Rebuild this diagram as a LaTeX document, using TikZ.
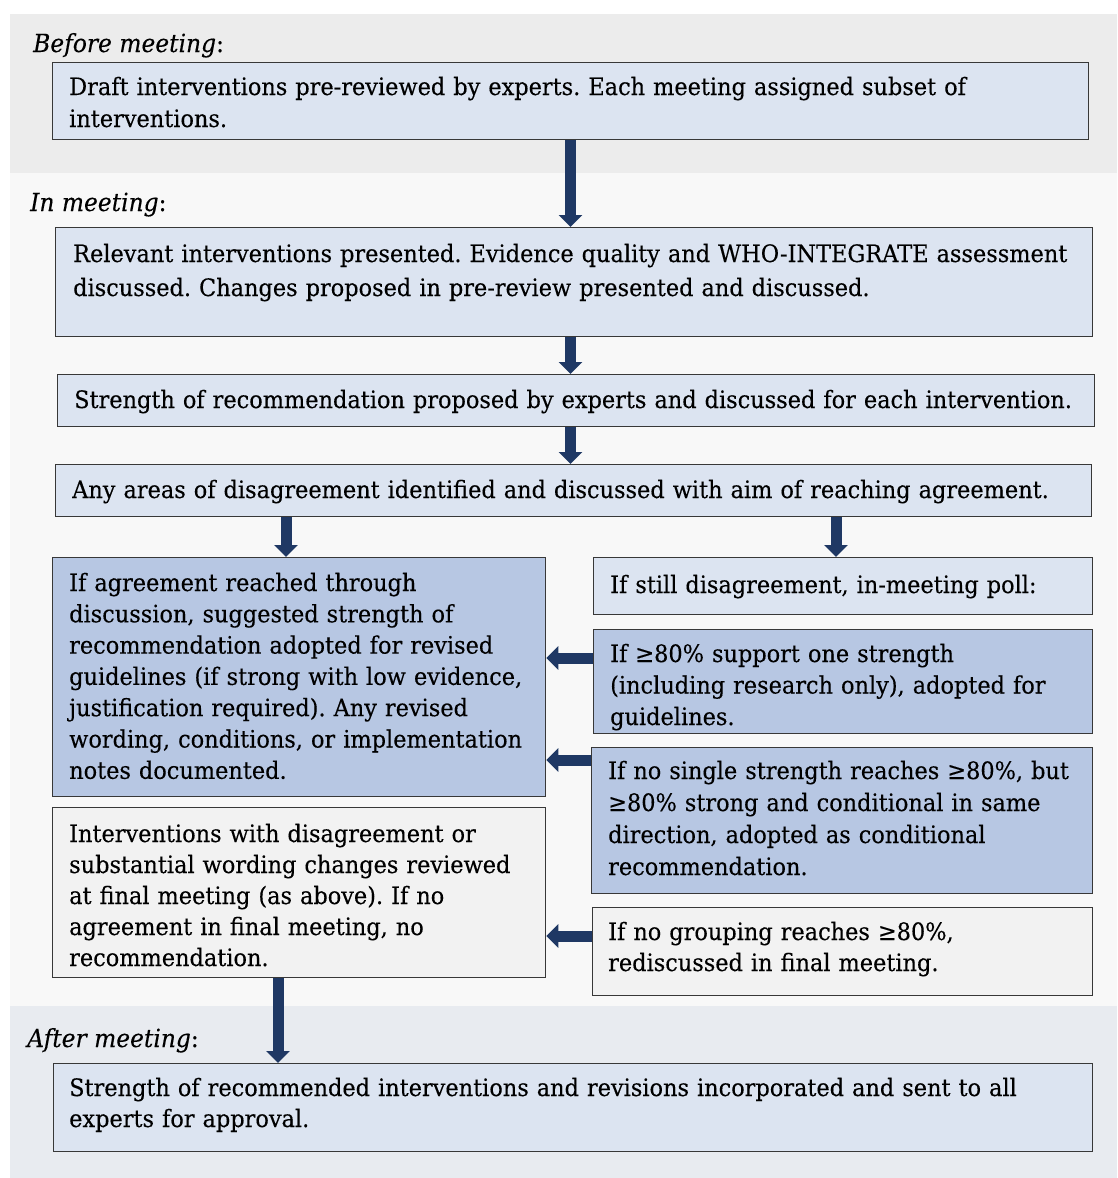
\documentclass[tikz,border=0pt]{standalone}
\usepackage{fontspec}
\setmainfont{DejaVu Serif}[FakeStretch=0.935, FakeBold=0.25]
\usetikzlibrary{arrows.meta}

\definecolor{navy}{HTML}{1F3864}
\definecolor{paleblue}{HTML}{DCE4F1}
\definecolor{midblue}{HTML}{B7C7E3}
\definecolor{palegray}{HTML}{F2F2F2}
\definecolor{bandbefore}{HTML}{ECECEC}
\definecolor{bandin}{HTML}{F8F8F8}
\definecolor{bandafter}{HTML}{E8EBF0}
\definecolor{edge}{HTML}{383838}

\tikzset{
  box/.style={draw=edge, line width=1.3pt, rectangle, inner sep=0pt, anchor=north west},
  lightbox/.style={box, fill=paleblue},
  darkbox/.style={box, fill=midblue},
  greybox/.style={box, fill=palegray},
  txt/.style={anchor=base west, inner sep=0pt, align=left, text width=1040pt,
              font=\fontsize{24}{31.5}\selectfont},
  phase/.style={anchor=base west, inner sep=0pt, font=\fontsize{25}{28}\selectfont},
  flow/.style={navy, line width=11pt, -{Triangle[width=23pt,length=12pt]}},
}

\begin{document}
\frenchspacing
\begin{tikzpicture}[x=1pt, y=-1pt]
\useasboundingbox (0,0) rectangle (1117,1178);

% phase bands
\fill[bandbefore] (10,14) rectangle (1117,173);
\fill[bandin] (10,173) rectangle (1117,1006);
\fill[bandafter] (10,1006) rectangle (1117,1178);

\node[phase] (lbefore) at (33,52) {\textit{Before meeting}:};
\node[phase] (lin) at (30,211) {\textit{In meeting}:};
\node[phase] (lafter) at (27,1047) {\textit{After meeting}:};

% boxes
\node[lightbox, minimum width=1036pt, minimum height=77pt] (b1) at (52,62) {};
\node[lightbox, minimum width=1037pt, minimum height=109pt] (b2) at (55,227) {};
\node[lightbox, minimum width=1037pt, minimum height=52pt] (b3) at (57,374) {};
\node[lightbox, minimum width=1036pt, minimum height=52pt] (b4) at (55,464) {};
\node[darkbox, minimum width=493pt, minimum height=239pt] (agree) at (52,557) {};
\node[lightbox, minimum width=499pt, minimum height=57pt] (poll) at (593,557) {};
\node[darkbox, minimum width=499pt, minimum height=104pt] (eighty) at (593,629) {};
\node[darkbox, minimum width=501pt, minimum height=146pt] (cond) at (591,747) {};
\node[greybox, minimum width=493pt, minimum height=170pt] (final) at (52,807) {};
\node[greybox, minimum width=500pt, minimum height=88pt] (nogroup) at (592,907) {};
\node[lightbox, minimum width=1039pt, minimum height=88pt] (after) at (53,1063) {};

% box texts
\node[txt, font=\fontsize{24}{32}\selectfont] (t1) at (69,95)
  {Draft interventions pre-reviewed by experts. Each meeting assigned subset of\\interventions.};
\node[txt, font=\fontsize{24}{34}\selectfont] (t2) at (73,262)
  {Relevant interventions presented. Evidence quality and WHO-INTEGRATE assessment\\discussed. Changes proposed in pre-review presented and discussed.};
\node[txt] (t3) at (74,408)
  {Strength of recommendation proposed by experts and discussed for each intervention.};
\node[txt] (t4) at (72,498)
  {Any areas of disagreement identified and discussed with aim of reaching agreement.};
\node[txt, text width=470pt, font=\fontsize{24}{31.3}\selectfont] (tagree) at (69,591)
  {If agreement reached through\\discussion, suggested strength of\\recommendation adopted for revised\\guidelines (if strong with low evidence,\\justification required). Any revised\\wording, conditions, or implementation\\notes documented.};
\node[txt, text width=480pt] (tpoll) at (610,593)
  {If still disagreement, in-meeting poll:};
\node[txt, text width=480pt] (teighty) at (610,662)
  {If ≥80\% support one strength\\(including research only), adopted for\\guidelines.};
\node[txt, text width=480pt, font=\fontsize{24}{32}\selectfont] (tcond) at (608,779)
  {If no single strength reaches ≥80\%, but\\≥80\% strong and conditional in same\\direction, adopted as conditional\\recommendation.};
\node[txt, text width=470pt, font=\fontsize{24}{31}\selectfont] (tfinal) at (69,842)
  {Interventions with disagreement or\\substantial wording changes reviewed\\at final meeting (as above). If no\\agreement in final meeting, no\\recommendation.};
\node[txt, text width=480pt, font=\fontsize{24}{31}\selectfont] (tnogroup) at (608,940)
  {If no grouping reaches ≥80\%,\\rediscussed in final meeting.};
\node[txt, font=\fontsize{24}{31}\selectfont] (tafter) at (69,1096)
  {Strength of recommended interventions and revisions incorporated and sent to all\\experts for approval.};

% connector columns and rows
\coordinate (mid) at (570.5,0);
\coordinate (leftcol) at (286,0);
\coordinate (rightcol) at (836,0);
\coordinate (outcol) at (278,0);
\coordinate (row1) at (0,658);
\coordinate (row2) at (0,760);
\coordinate (row3) at (0,936);

% connectors
\draw[flow] (b1.south -| mid) -- (b2.north -| mid);
\draw[flow] (b2.south -| mid) -- (b3.north -| mid);
\draw[flow] (b3.south -| mid) -- (b4.north -| mid);
\draw[flow] (b4.south -| leftcol) -- (agree.north -| leftcol);
\draw[flow] (b4.south -| rightcol) -- (poll.north -| rightcol);
\draw[flow] (eighty.west |- row1) -- (agree.east |- row1);
\draw[flow] (cond.west |- row2) -- (agree.east |- row2);
\draw[flow] (nogroup.west |- row3) -- (final.east |- row3);
\draw[flow] (final.south -| outcol) -- (after.north -| outcol);
\end{tikzpicture}
\end{document}
